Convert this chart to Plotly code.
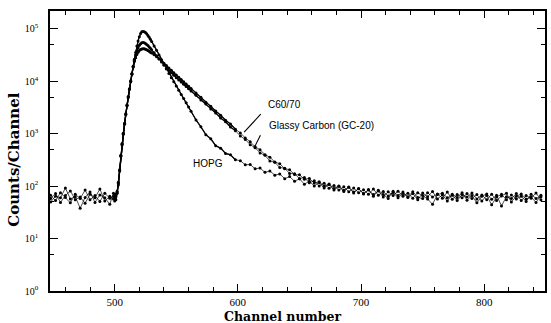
import plotly.graph_objects as go

# Channel numbers (shared by all three spectra)
channels = [448, 452, 456, 460, 464, 468, 472, 476, 480, 484, 488, 492, 496,
            499, 500, 501, 502, 503, 504, 505, 506, 507, 508, 509, 510, 511, 512, 513, 514,
            515, 516, 517, 518, 519, 520, 521, 522, 523, 524, 525, 526, 527, 528, 529, 530,
            532, 534, 536, 538, 540, 542, 544, 546, 548, 550, 552, 554, 556, 558, 560, 562,
            566, 570, 574, 578, 582, 586, 590, 594, 598, 602, 606, 610, 614, 618, 622, 626,
            630, 634, 638, 642, 646, 650, 654, 658, 662, 666, 670, 674, 678, 682, 686, 690,
            694, 698, 702, 706, 710, 714, 718, 722, 726, 730, 734, 738, 742, 746, 750, 754,
            758, 762, 766, 770, 774, 778, 782, 786, 790, 794, 798, 802, 806, 810, 814, 818,
            822, 826, 830, 834, 838, 842, 846]

hopg = [58, 72, 49, 66, 81, 55, 62, 47, 70, 60, 88, 52, 64,
        57, 69, 63, 76, 112, 200, 380, 630, 1000, 1550, 2350, 3470, 5000, 7100, 10000, 13800,
        19000, 26300, 35500, 46800, 58900, 70800, 81300, 88100, 89100, 88100, 85100, 80400, 75000, 69200, 63100, 57500,
        47300, 38900, 31600, 25700, 20900, 17200, 14100, 11700, 9770, 8130, 6760, 5620, 4680, 3890, 3240, 2690,
        1830, 1350, 960, 800, 590, 530, 420, 395, 318, 306, 255, 258, 214, 221, 183, 194,
        162, 171, 139, 152, 124, 138, 109, 124, 101, 117, 92, 108, 84, 99, 79, 96,
        74, 90, 71, 86, 64, 83, 69, 58, 80, 66, 77, 61, 72, 55, 74, 63,
        79, 57, 68, 52, 70, 61, 75, 54, 66, 48, 64, 71, 56, 67, 42, 63,
        58, 72, 53, 66, 59, 74, 55]

glassy = [67, 53, 75, 61, 48, 70, 58, 84, 55, 66, 51, 73, 59,
          64, 52, 71, 80, 105, 195, 390, 610, 1020, 1520, 2400, 3400, 5100, 7000, 10200, 13600,
          19300, 25100, 31600, 38000, 43700, 48400, 51900, 54300, 55000, 54300, 52500, 50100, 47900, 45200, 42700, 39800,
          35100, 30500, 26600, 23200, 20200, 17800, 16000, 14500, 13000, 11700, 10600, 9660, 8770, 7940, 7210, 6530,
          5400, 4380, 3680, 2950, 2490, 1990, 1690, 1340, 1140, 905, 775, 618, 540, 430, 386, 302,
          285, 226, 220, 174, 173, 139, 146, 116, 126, 101, 113, 91, 103, 84, 97, 78,
          92, 75, 85, 70, 88, 67, 79, 65, 76, 60, 72, 63, 78, 61, 58, 75,
          62, 71, 59, 77, 56, 69, 60, 72, 58, 69, 52, 66, 44, 62, 70, 55,
          68, 57, 64, 51, 70, 58, 63]

c6070 = [50, 64, 60, 92, 57, 63, 38, 61, 77, 49, 68, 60, 45,
         73, 60, 55, 73, 118, 205, 370, 650, 980, 1580, 2300, 3520, 4900, 7200, 9800, 14000,
         18700, 24000, 28200, 32400, 35900, 38500, 40300, 41400, 41700, 41500, 40700, 39800, 38500, 37200, 35900, 34700,
         32000, 29500, 26900, 24500, 22100, 20000, 18000, 16200, 14600, 13200, 11900, 10800, 9770, 8870, 8040, 7280,
         6000, 4950, 3990, 3350, 2700, 2260, 1810, 1530, 1220, 1035, 830, 705, 561, 495, 398, 356,
         288, 268, 215, 205, 166, 164, 136, 140, 115, 121, 100, 110, 90, 101, 83, 95,
         77, 89, 72, 84, 69, 81, 62, 78, 66, 80, 64, 73, 59, 75, 66, 57,
         45, 69, 73, 60, 67, 53, 69, 62, 74, 57, 68, 55, 70, 53, 65, 73,
         50, 64, 71, 57, 62, 49, 67]

x_tickvals = [500, 600, 700, 800]
x_minor = [460, 480, 520, 540, 560, 580, 620, 640, 660, 680, 720, 740, 760, 780, 820, 840]
y_tickvals = [1, 10, 100, 1000, 10000, 100000]
y_ticktext = ["10<sup>0</sup>", "10<sup>1</sup>", "10<sup>2</sup>", "10<sup>3</sup>",
              "10<sup>4</sup>", "10<sup>5</sup>"]
y_minor = [5, 50, 500, 5000, 50000]

line_lo, line_hi = 501, 600

fig = go.Figure()
for series in (hopg, glassy, c6070):
    # thin connecting line through all measured points (noisy band)
    fig.add_trace(go.Scatter(x=channels, y=series, mode="lines",
                             line=dict(color="black", width=0.7), hoverinfo="skip"))
    xs = [c for c in channels if line_lo <= c <= line_hi]
    ys = [v for c, v in zip(channels, series) if line_lo <= c <= line_hi]
    fig.add_trace(go.Scatter(x=xs, y=ys, mode="lines",
                             line=dict(color="black", width=1.3), hoverinfo="skip"))
    fig.add_trace(go.Scatter(x=channels, y=series, mode="markers",
                             marker=dict(color="black", size=3), hoverinfo="skip"))

axis_common = dict(showline=True, linecolor="black", linewidth=1.5, mirror="allticks",
                   ticks="inside", tickcolor="black", tickwidth=1.3, showgrid=False,
                   zeroline=False)

fig.update_xaxes(range=[447.5, 849.3], tickvals=x_tickvals, ticklen=7,
                 minor=dict(tickvals=x_minor, ticks="inside", ticklen=4,
                            tickcolor="black", tickwidth=1),
                 tickfont=dict(family="Liberation Serif", size=11, color="black"),
                 ticklabelstandoff=0, **axis_common)
fig.update_yaxes(type="log", range=[0, 5.34], tickvals=y_tickvals, ticktext=y_ticktext,
                 ticklen=8,
                 minor=dict(tickvals=y_minor, ticks="inside", ticklen=4,
                            tickcolor="black", tickwidth=1),
                 tickfont=dict(family="Liberation Serif", size=10, color="black"),
                 ticklabelstandoff=8, **axis_common)

lab_font = dict(family="Liberation Sans", size=10, color="black")
fig.update_layout(
    width=551, height=323,
    margin=dict(l=50, r=4, t=11, b=32),
    paper_bgcolor="white", plot_bgcolor="white",
    showlegend=False,
    annotations=[
        dict(text="Channel number", xref="paper", yref="paper", x=0.47, y=-0.09,
             xanchor="center", yanchor="middle", showarrow=False,
             font=dict(family="DejaVu Serif", size=12.5, color="black", weight="bold")),
        dict(text="Counts/Channel", xref="paper", yref="paper", x=-0.072, y=0.47,
             xanchor="center", yanchor="middle", textangle=-90, showarrow=False,
             font=dict(family="DejaVu Serif", size=15, color="black", weight="bold")),
        dict(text="C60/70", x=622.9, y=3.55, xanchor="left", yanchor="middle",
             showarrow=False, font=lab_font),
        dict(text="Glassy Carbon (GC-20)", x=623.7, y=3.15, xanchor="left",
             yanchor="middle", showarrow=False, font=lab_font),
        dict(text="HOPG", x=562.3, y=2.44, xanchor="left", yanchor="middle",
             showarrow=False, font=lab_font),
        dict(text="", x=605.1, y=3.03, ax=619.7, ay=3.40, axref="x", ayref="y",
             showarrow=True, arrowhead=0, arrowwidth=1.1, arrowcolor="black"),
        dict(text="", x=613.2, y=2.73, ax=618.9, ay=3.0, axref="x", ayref="y",
             showarrow=True, arrowhead=0, arrowwidth=1.1, arrowcolor="black"),
    ],
)

fig.write_html("out.html")
